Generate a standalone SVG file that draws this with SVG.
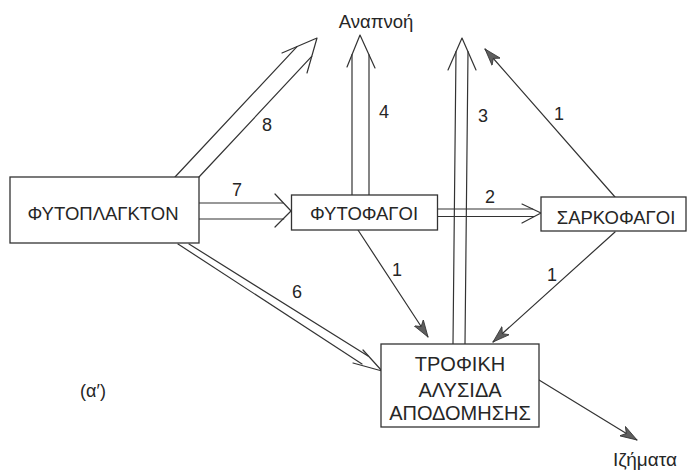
<svg xmlns="http://www.w3.org/2000/svg" width="687" height="471" viewBox="0 0 687 471">
<style>
  .box { fill: #ffffff; stroke: #333333; stroke-width: 1.3; }
  .ln { fill: none; stroke: #333333; stroke-width: 1.2; stroke-linecap: round; stroke-linejoin: round; }
  .t { font-family: "Liberation Sans", Arial, sans-serif; fill: #262626; text-anchor: middle; }
  .bt { font-size: 18.5px; }
  .lb { font-size: 18px; }
</style>
<defs>
  <marker id="ah" markerUnits="userSpaceOnUse" viewBox="0 -6 18 12" refX="17" refY="0" markerWidth="18" markerHeight="12" orient="auto">
    <path d="M0,-5.5 L17,0 L0,5.5 L4.5,0 z" fill="#5e5e5e" stroke="#333333" stroke-width="0.8"/>
  </marker>
</defs>
<rect width="687" height="471" fill="#ffffff"/>

<g id="connectors">
  <!-- 8: phytoplankton -> respiration -->
  <g id="c8">
    <path class="ln" d="M175,177 L297,46.6"/>
    <path class="ln" d="M199,177 L311.7,56.4"/>
    <path class="ln" d="M282,53 L317,38 L307,73"/>
  </g>
  <!-- 4: phytophagoi -> respiration -->
  <g id="c4">
    <path class="ln" d="M352,195 L352,54.7"/>
    <path class="ln" d="M369,195 L369,54.8"/>
    <path class="ln" d="M347,67 L360,35 L375,68"/>
  </g>
  <!-- 3: decomposition -> respiration -->
  <g id="c3">
    <path class="ln" d="M453,344 L456,51.7"/>
    <path class="ln" d="M465,344 L468,51.7"/>
    <path class="ln" d="M448,70 L462,38 L476,70"/>
  </g>
  <!-- 7: phytoplankton -> phytophagoi -->
  <g id="c7">
    <path class="ln" d="M199,203 L283,203"/>
    <path class="ln" d="M199,219 L283.7,219"/>
    <path class="ln" d="M275,194 L291,211 L275,227"/>
  </g>
  <!-- 2: phytophagoi -> sarkophagoi -->
  <g id="c2">
    <path class="ln" d="M438,209 L532.6,209"/>
    <path class="ln" d="M438,216.5 L534.4,216.5"/>
    <path class="ln" d="M522,204 L541,213 L522,223"/>
  </g>
  <!-- 6: phytoplankton -> decomposition -->
  <g id="c6">
    <path class="ln" d="M189,244 L368,356"/>
    <path class="ln" d="M178,244 L362,364"/>
    <path class="ln" d="M363,350 L382,371 L353,363"/>
  </g>
  <!-- single arrows -->
  <path id="c1a" class="ln" d="M615,197 L485,49" marker-end="url(#ah)"/>
  <path id="c1b" class="ln" d="M358,230 L428,337" marker-end="url(#ah)"/>
  <path id="c1c" class="ln" d="M615,232 L493,342" marker-end="url(#ah)"/>
  <path id="c-sed" class="ln" d="M539,380 L637,440" marker-end="url(#ah)"/>
  <!-- connector labels -->
  <text class="t lb" x="267" y="131">8</text>
  <text class="t lb" x="384" y="118">4</text>
  <text class="t lb" x="483" y="122">3</text>
  <text class="t lb" x="559" y="120">1</text>
  <text class="t lb" x="237" y="196">7</text>
  <text class="t lb" x="490" y="203">2</text>
  <text class="t lb" x="397" y="276">1</text>
  <text class="t lb" x="552" y="281">1</text>
  <text class="t lb" x="297" y="298">6</text>
</g>

<g id="phytoplankton">
  <rect class="box" x="10" y="177" width="189" height="66"/>
  <text class="t bt" x="103" y="220">ΦΥΤΟΠΛΑΓΚΤΟΝ</text>
</g>
<g id="phytophagoi">
  <rect class="box" x="291.5" y="195" width="146" height="35"/>
  <text class="t bt" x="364" y="220">ΦΥΤΟΦΑΓΟΙ</text>
</g>
<g id="sarkophagoi">
  <rect class="box" x="541" y="197" width="145" height="34"/>
  <text class="t bt" x="616" y="224">ΣΑΡΚΟΦΑΓΟΙ</text>
</g>
<g id="decomposition">
  <rect class="box" x="381" y="344" width="158" height="83"/>
  <text class="t" font-size="20" x="460" y="371">ΤΡΟΦΙΚΗ</text>
  <text class="t" font-size="20" x="460" y="397">ΑΛΥΣΙΔΑ</text>
  <text class="t" font-size="20" x="460" y="420">ΑΠΟΔΟΜΗΣΗΣ</text>
</g>
<g id="respiration">
  <text class="t" font-size="18.5" x="376" y="28">Αναπνοή</text>
</g>
<g id="sediments">
  <text class="t" font-size="19" x="645" y="466">Ιζήματα</text>
</g>
<g id="caption">
  <text class="t" font-size="18" x="93" y="397">(α′)</text>
</g>
</svg>
